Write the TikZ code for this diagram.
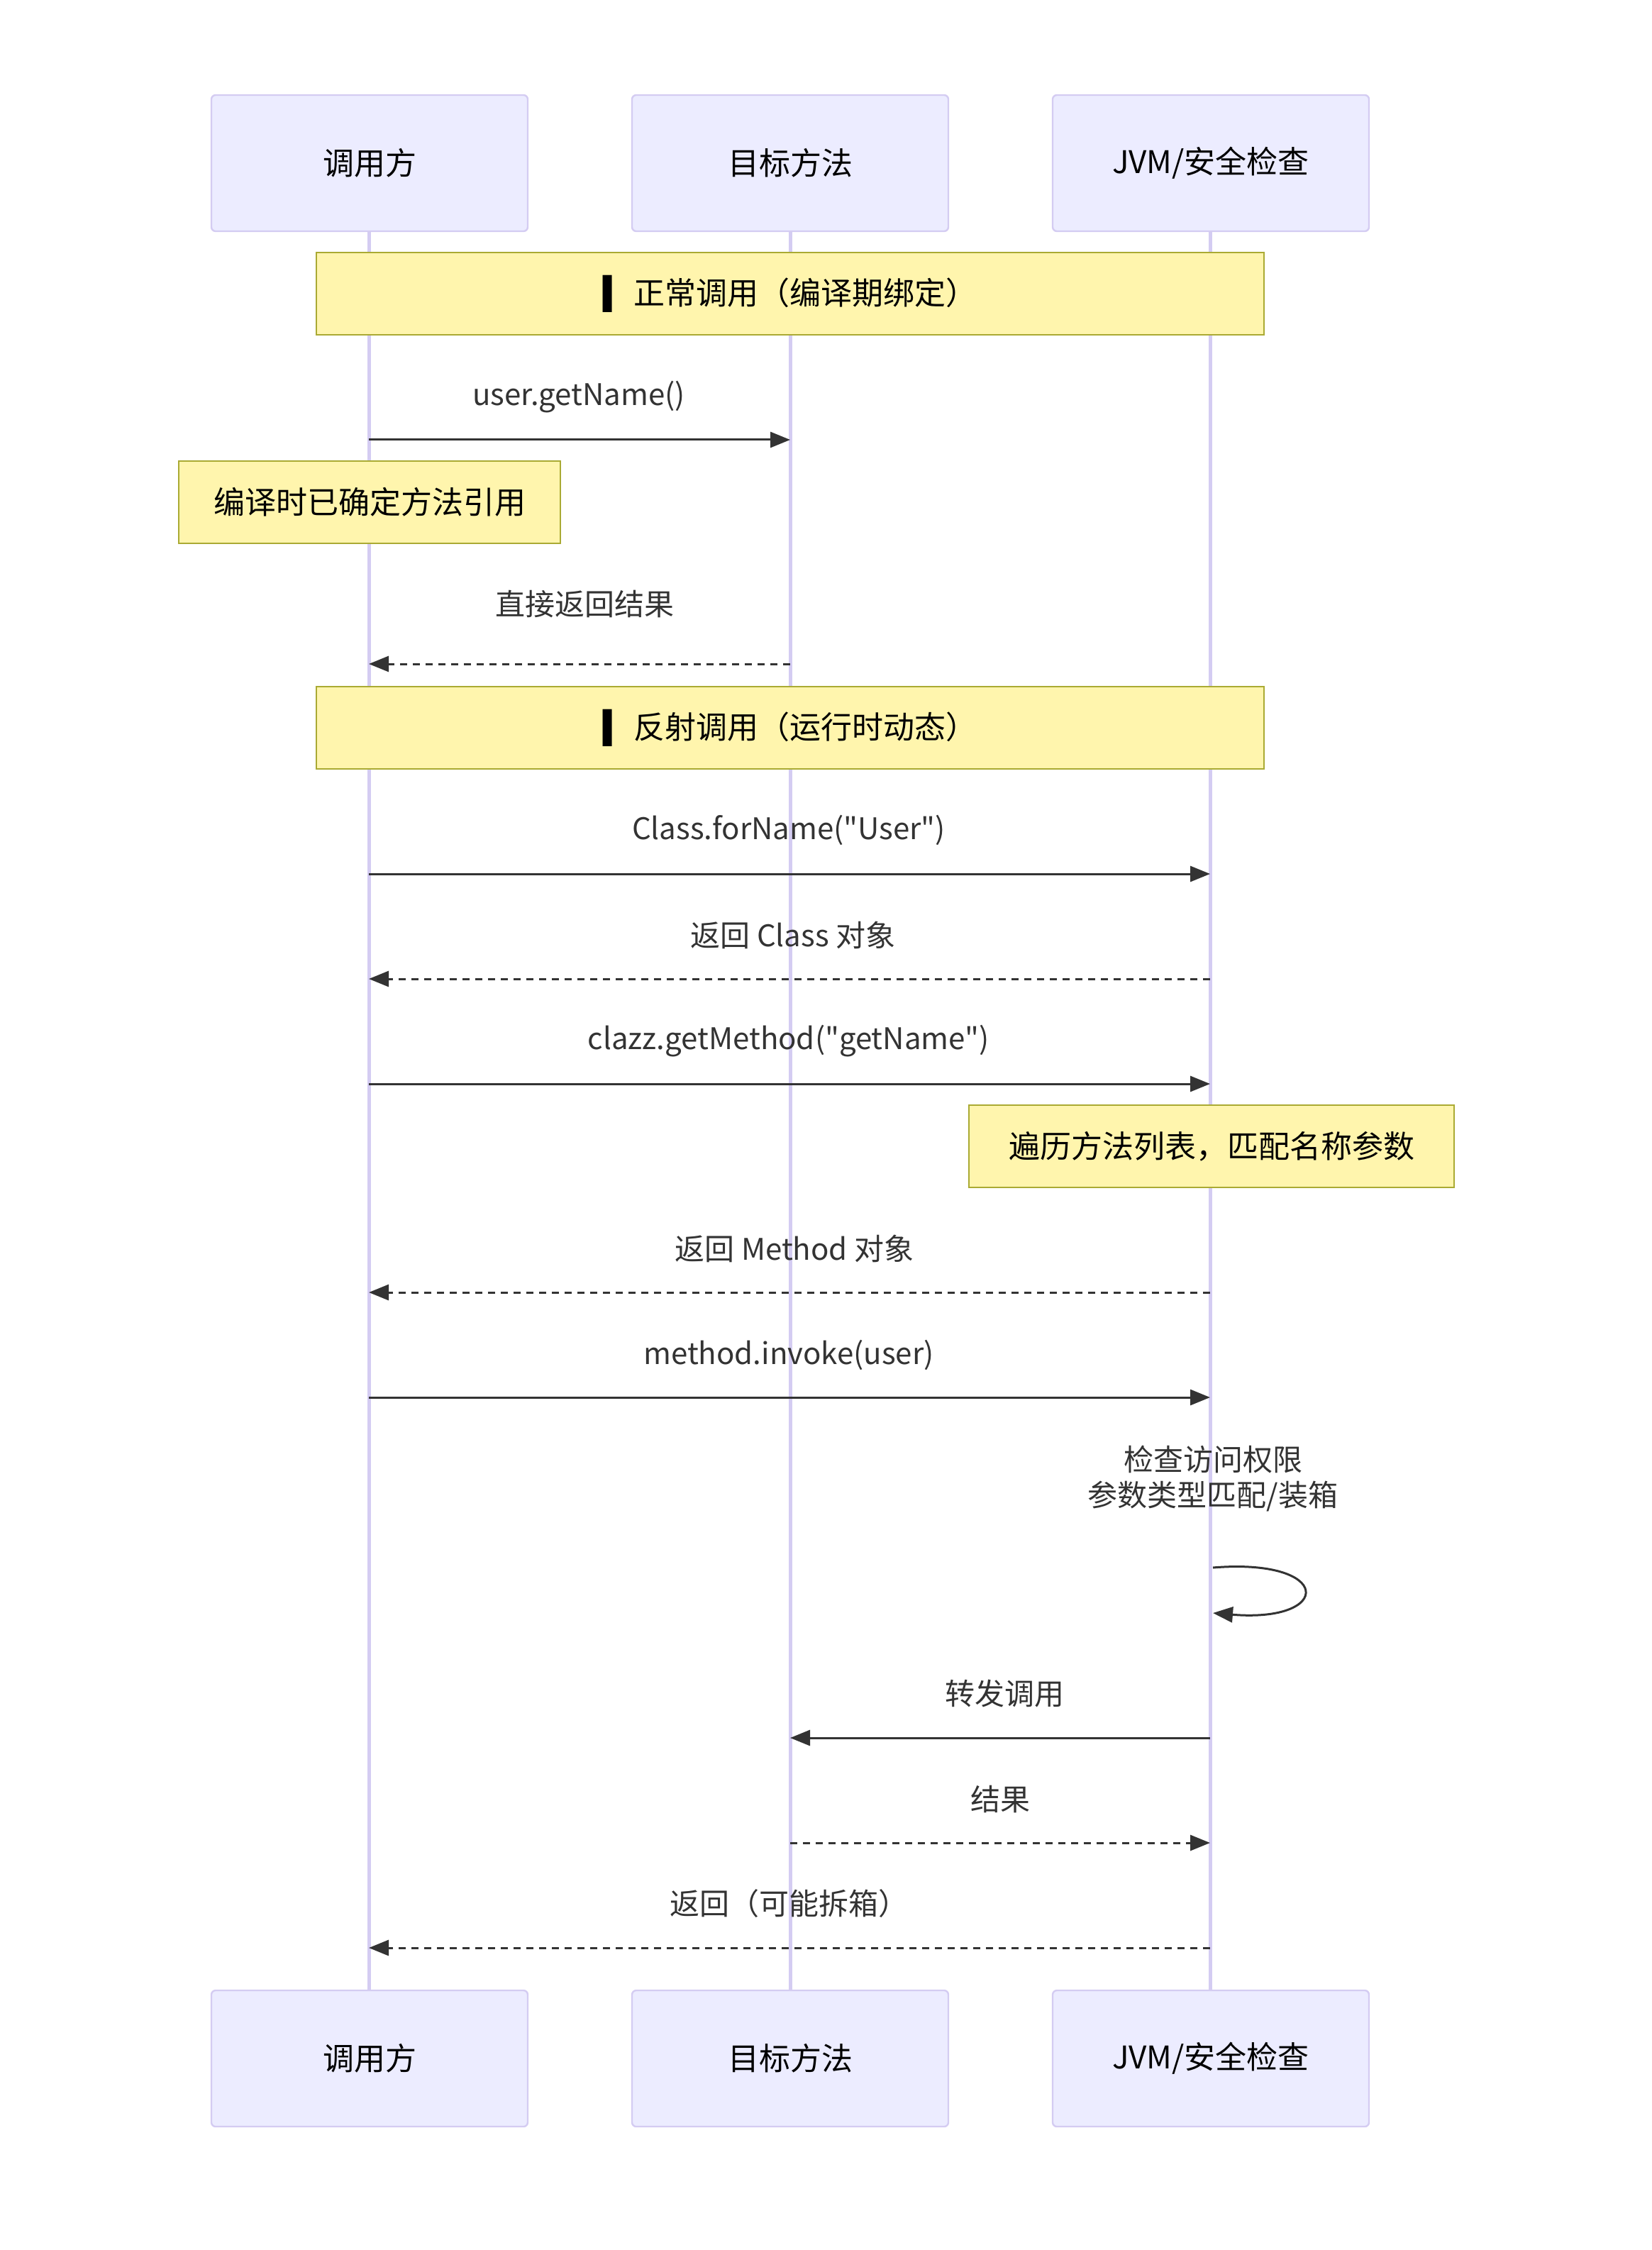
\documentclass[tikz,border=0pt]{standalone}
\usepackage{fontspec}
\setmainfont{Noto Sans CJK SC}[Ligatures=TeXOff]
\newfontfamily\symfont{DejaVu Sans}
\usetikzlibrary{arrows.meta}
\definecolor{actfill}{HTML}{ECECFF}
\definecolor{actline}{HTML}{D4CCF2}
\definecolor{notefill}{HTML}{FFF5AD}
\definecolor{noteline}{HTML}{AAAA33}
\definecolor{ink}{HTML}{333333}
\begin{document}
\begin{tikzpicture}[x=1pt,y=-1pt,
  actor/.style={draw=actline,fill=actfill,line width=1.2pt,rounded corners=3pt,minimum width=223pt,minimum height=96pt,font=\fontsize{22}{26}\selectfont,text=black},
  notebox/.style={draw=noteline,fill=notefill,line width=1.2pt,font=\fontsize{22}{26}\selectfont,text=black},
  lbl/.style={font=\fontsize{21}{25}\selectfont,text=ink},
  msg/.style={draw=ink,line width=1.5pt,-{Triangle[length=14pt,width=11pt]}},
  ret/.style={msg,dashed,dash pattern=on 5pt off 4pt},
  life/.style={draw=actline,line width=2.5pt}]
\useasboundingbox (0,0) rectangle (1164,1586);
% lifelines
\foreach \n/\x in {a/260,b/557,c/853}{
  \coordinate (\n t) at (\x,163); \coordinate (\n b) at (\x,1403);
  \draw[life] (\n t) -- (\n b);
}
\node[actor] (A) at (260.5,115) {调用方};
\node[actor] (B) at (557,115) {目标方法};
\node[actor] (C) at (853.5,115) {JVM/安全检查};
\node[actor] (A2) at (260.5,1451) {调用方};
\node[actor] (B2) at (557,1451) {目标方法};
\node[actor] (C2) at (853.5,1451) {JVM/安全检查};
% sections
\node[notebox,minimum width=668pt,minimum height=58pt] (S1) at (557,207) {{\symfont ▍} 正常调用（编译期绑定）};
\node[notebox,minimum width=668pt,minimum height=58pt] (S2) at (557,513) {{\symfont ▍} 反射调用（运行时动态）};
% messages
\coordinate (a1) at (260,310); \coordinate (b1) at (557,310);
\draw[msg] (a1) -- (b1);
\node[lbl] (l1) at (408,280) {user.getName()};
\node[notebox,minimum width=269pt,minimum height=58pt] (N1) at (260.5,354) {编译时已确定方法引用};
\coordinate (b2) at (557,468); \coordinate (a2) at (260,468);
\draw[ret] (b2) -- (a2);
\node[lbl] (l2) at (412,426) {直接返回结果};
\coordinate (a3) at (260,616); \coordinate (c3) at (853,616);
\draw[msg] (a3) -- (c3);
\node[lbl] (l3) at (556,585) {Class.forName("User")};
\coordinate (c4) at (853,690); \coordinate (a4) at (260,690);
\draw[ret] (c4) -- (a4);
\node[lbl] (l4) at (559,659) {返回 Class 对象};
\coordinate (a5) at (260,764); \coordinate (c5) at (853,764);
\draw[msg] (a5) -- (c5);
\node[lbl] (l5) at (556,734) {clazz.getMethod("getName")};
\node[notebox,minimum width=342pt,minimum height=58pt] (N2) at (854,808) {遍历方法列表，匹配名称参数};
\coordinate (c6) at (853,911); \coordinate (a6) at (260,911);
\draw[ret] (c6) -- (a6);
\node[lbl] (l6) at (560,880) {返回 Method 对象};
\coordinate (a7) at (260,985); \coordinate (c7) at (853,985);
\draw[msg] (a7) -- (c7);
\node[lbl] (l7) at (556,955) {method.invoke(user)};
\node[lbl,align=center] (l8) at (855,1042) {检查访问权限\\[0pt]参数类型匹配/装箱};
\coordinate (s1) at (855,1105); \coordinate (s2) at (855,1137);
\draw[msg] (s1) .. controls (940,1098) and (940,1144) .. (s2);
\coordinate (c9) at (853,1225); \coordinate (b9) at (557,1225);
\draw[msg] (c9) -- (b9);
\node[lbl] (l9) at (708,1194) {转发调用};
\coordinate (b10) at (557,1299); \coordinate (c10) at (853,1299);
\draw[ret] (b10) -- (c10);
\node[lbl] (l10) at (705,1268) {结果};
\coordinate (c11) at (853,1373); \coordinate (a11) at (260,1373);
\draw[ret] (c11) -- (a11);
\node[lbl] (l11) at (556,1342) {返回（可能拆箱）};
\end{tikzpicture}
\end{document}
